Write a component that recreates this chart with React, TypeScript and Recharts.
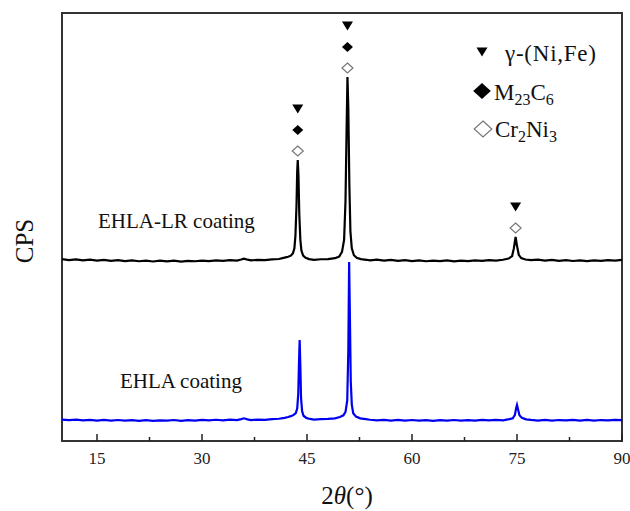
import React from "react";
import { LineChart, Line, XAxis, YAxis, ReferenceArea, ReferenceDot } from "recharts";

// EHLA-LR coating (black trace, offset upward)
const lrAngles = [
	10, 11, 12, 13, 14, 15, 16, 17, 18, 19,
	20, 21, 22, 23, 24, 25, 26, 27, 28, 29,
	30, 31, 32, 33, 34, 35,
	35.6, 36, 36.5, 37,
	38, 39, 40, 41,
	41.8, 42.3, 42.7,
	43.0, 43.2, 43.35, 43.5, 43.6, 43.68, 43.78, 43.9, 44.05, 44.2, 44.45, 44.8, 45.3,
	46, 47, 48, 49,
	49.6, 50.0, 50.3, 50.5, 50.65, 50.78, 50.9, 51.05, 51.2, 51.4, 51.7, 52.1, 52.7, 53.5,
	54, 55, 56, 57, 58, 59, 60, 61, 62, 63, 64, 65, 66, 67, 68, 69, 70, 71, 72, 73,
	73.8, 74.3, 74.55, 74.8, 75.0, 75.25, 75.6, 76.2,
	77, 78, 79, 80, 81, 82, 83, 84, 85, 86, 87, 88, 89, 90,
];
const lrCps = [
	4250, 4228, 4245, 4220, 4236, 4214, 4232, 4208, 4226, 4204,
	4222, 4200, 4216, 4194, 4212, 4198, 4216, 4192, 4210, 4200,
	4216, 4204, 4222, 4208, 4226, 4214,
	4240, 4260, 4236, 4222,
	4232, 4224, 4242, 4252,
	4285, 4305, 4330,
	4390, 4500, 4800, 5500, 6300, 6565, 6200, 5300, 4700, 4450, 4330, 4280, 4250,
	4232, 4246, 4250, 4272,
	4310, 4420, 4700, 5600, 7200, 8505, 7800, 6000, 4900, 4500, 4340, 4280, 4250, 4234,
	4220, 4236, 4214, 4230, 4208, 4226, 4204, 4222, 4200, 4216, 4204, 4220, 4198, 4214, 4204, 4220, 4208, 4224, 4214, 4234,
	4262, 4320, 4500, 4766, 4560, 4350, 4272, 4240,
	4224, 4236, 4214, 4230, 4210, 4226, 4206, 4222, 4204, 4220, 4210, 4226, 4216, 4232,
];

// EHLA coating (blue trace)
const ehAngles = [
	10, 11, 12, 13, 14, 15, 16, 17, 18, 19,
	20, 21, 22, 23, 24, 25, 26, 27, 28, 29,
	30, 31, 32, 33, 34, 35,
	35.6, 36, 36.5, 37,
	38, 39, 40, 41,
	41.8, 42.3, 42.7, 43.1,
	43.4, 43.6, 43.75, 43.85, 43.95, 44.05, 44.15, 44.3, 44.5, 44.9, 45.4,
	46, 47, 48, 49, 49.7, 50.2,
	50.5, 50.75, 50.9, 51.02, 51.12, 51.25, 51.4, 51.6, 52, 52.6, 53.4,
	54, 55, 56, 57, 58, 59, 60, 61, 62, 63, 64, 65, 66, 67, 68, 69, 70, 71, 72, 73,
	73.9, 74.4, 74.7, 74.88, 75.0, 75.12, 75.35, 75.7, 76.3,
	77, 78, 79, 80, 81, 82, 83, 84, 85, 86, 87, 88, 89, 90,
];
const ehCps = [
	500, 486, 498, 480, 494, 478, 492, 476, 490, 474,
	488, 472, 486, 470, 484, 474, 490, 472, 486, 476,
	492, 480, 496, 484, 500, 488,
	510, 530, 505, 490,
	500, 494, 510, 520,
	540, 560, 580, 610,
	650, 760, 1100, 1800, 2360, 1750, 1000, 700, 590, 540, 515,
	500, 512, 518, 530, 560, 600,
	680, 950, 2100, 4182, 3000, 1400, 850, 650, 570, 530, 510,
	496, 482, 494, 478, 492, 476, 490, 474, 488, 472, 486, 476, 490, 474, 488, 478, 492, 480, 494, 484,
	510, 530, 610, 770, 841, 760, 600, 540, 505,
	492, 478, 494, 476, 490, 480, 494, 478, 492, 476, 490, 480, 494, 486,
];

const majorTicks = [15, 30, 45, 60, 75, 90];
const allTicks = [15, 22.5, 30, 37.5, 45, 52.5, 60, 67.5, 75, 82.5, 90];

// indexed peaks of the black trace, phases listed bottom-up
const peakAngles = [43.68, 50.78, 74.8];
const peakPhases = [
	["cr2ni3", "m23c6", "gamma"],
	["cr2ni3", "m23c6", "gamma"],
	["cr2ni3", "gamma"],
];

const lrData = lrAngles.map((a, i) => ({ angle: a, cps: lrCps[i] }));
const ehData = ehAngles.map((a, i) => ({ angle: a, cps: ehCps[i] }));

const FONT = '"Liberation Serif", "Times New Roman", serif';

function Sym({ kind, x, y, s = 1 }: { kind: string; x: number; y: number; s?: number }) {
	if (kind === "gamma") {
		return <path d={`M${x - 5.5 * s},${y - 4.5 * s} L${x + 5.5 * s},${y - 4.5 * s} L${x},${y + 4.5 * s} Z`} fill="#000" />;
	}
	if (kind === "m23c6") {
		return <path d={`M${x},${y - 5 * s} L${x + 5.5 * s},${y} L${x},${y + 5 * s} L${x - 5.5 * s},${y} Z`} fill="#000" />;
	}
	return (
		<path
			d={`M${x},${y - 5 * s} L${x + 5.5 * s},${y} L${x},${y + 5 * s} L${x - 5.5 * s},${y} Z`}
			fill="#fff"
			stroke="#777"
			strokeWidth={1.2}
		/>
	);
}

function AxisTick(props: any) {
	const { x, y, payload } = props;
	const major = majorTicks.includes(payload.value);
	return (
		<g>
			<line x1={x} x2={x} y1={y} y2={y - (major ? 7 : 4)} stroke="#222" strokeWidth={1.5} />
			{major && (
				<text x={x} y={y + 23} textAnchor="middle" fontFamily={FONT} fontSize={17} fill="#222">
					{payload.value}
				</text>
			)}
		</g>
	);
}

export default function App() {
	return (
		<div style={{ position: "absolute", left: 0, top: 0, width: 630, height: 511, background: "#fff" }}>
			<LineChart width={630} height={511} margin={{ top: 13, right: 8, bottom: 40, left: 62 }}>
				<XAxis
					dataKey="angle"
					type="number"
					domain={[10, 90]}
					ticks={allTicks}
					interval={0}
					height={30}
					tickLine={false}
					tickSize={0}
					tickMargin={0}
					tick={AxisTick}
					axisLine={{ stroke: "#333", strokeWidth: 2 }}
					allowDuplicatedCategory={false}
				/>
				<YAxis type="number" domain={[0, 10000]} hide />
				<Line data={lrData} dataKey="cps" stroke="#000" strokeWidth={2.2} dot={false} isAnimationActive={false} />
				<Line data={ehData} dataKey="cps" stroke="#0000f0" strokeWidth={2.2} dot={false} isAnimationActive={false} />
				<ReferenceArea x1={10} x2={90} y1={0} y2={10000} fill="none" stroke="#333" strokeWidth={2} />
				{peakAngles.map((a, i) => (
					<ReferenceDot
						key={a}
						x={a}
						y={lrCps[lrAngles.indexOf(a)]}
						shape={(p: any) => (
							<g>
								{peakPhases[i].map((k, j) => (
									<Sym key={k} kind={k} x={p.cx} y={p.cy - 9 - j * 21} />
								))}
							</g>
						)}
					/>
				))}
			</LineChart>
			<svg width={630} height={511} style={{ position: "absolute", left: 0, top: 0, pointerEvents: "none" }}>
				<g fontFamily={FONT} fill="#111">
					<text x={98} y={228} fontSize={21}>EHLA-LR coating</text>
					<text x={120} y={388} fontSize={21}>EHLA coating</text>
					<text x={0} y={0} fontSize={25} textAnchor="middle" transform="translate(33,241) rotate(-90)">CPS</text>
					<text x={347} y={504} fontSize={25} textAnchor="middle">
						2<tspan fontStyle="italic">θ</tspan>(°)
					</text>
					<Sym kind="gamma" x={482} y={52} />
					<text x={505} y={61} fontSize={23} textLength={91} lengthAdjust="spacing">γ-(Ni,Fe)</text>
					<Sym kind="m23c6" x={482} y={91} s={1.6} />
					<text x={494} y={100} fontSize={23}>
						M<tspan fontSize={16} dy={5}>23</tspan><tspan dy={-5}>C</tspan><tspan fontSize={16} dy={5}>6</tspan>
					</text>
					<Sym kind="cr2ni3" x={483} y={129} s={1.6} />
					<text x={495} y={137} fontSize={23}>
						Cr<tspan fontSize={16} dy={5}>2</tspan><tspan dy={-5}>Ni</tspan><tspan fontSize={16} dy={5}>3</tspan>
					</text>
				</g>
			</svg>
		</div>
	);
}
